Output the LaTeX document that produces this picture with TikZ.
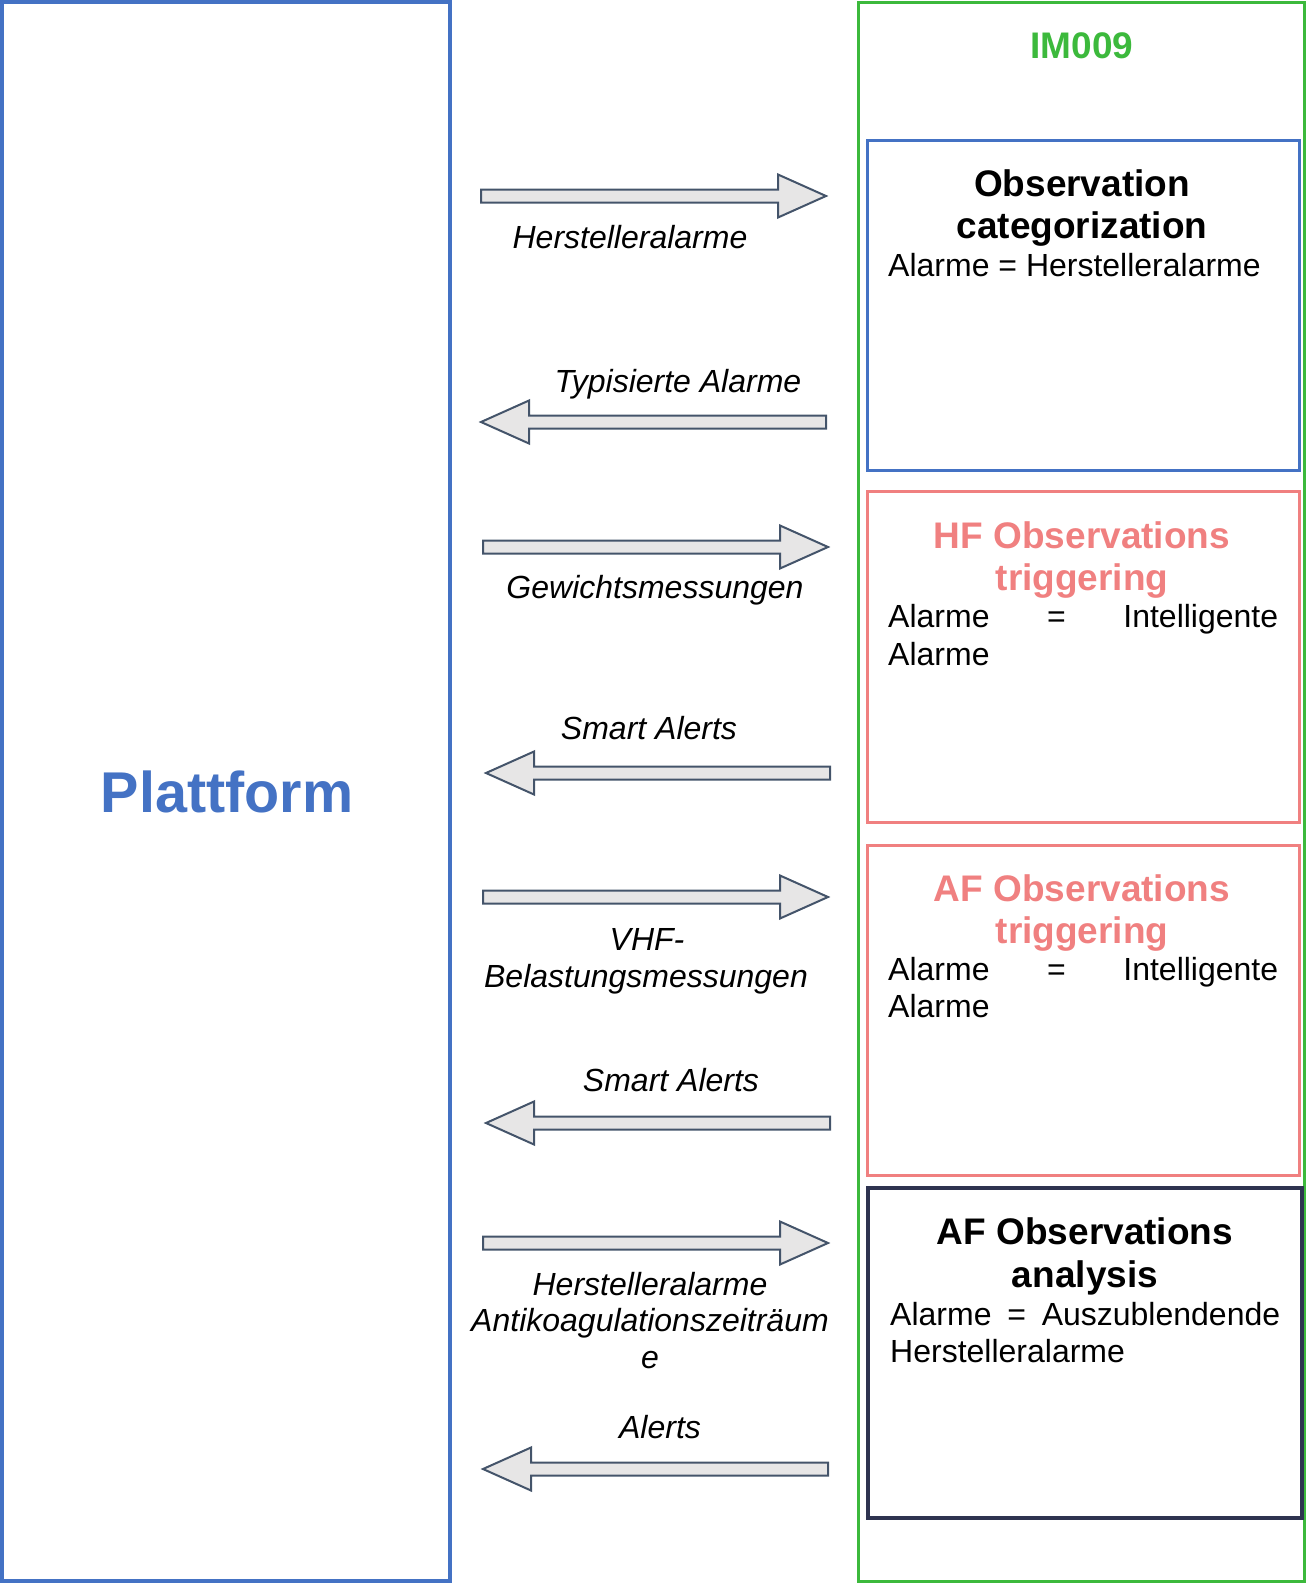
\documentclass[tikz,border=0pt]{standalone}
\usepackage{fontspec}
\setmainfont{Liberation Sans}
\definecolor{platblue}{HTML}{4472C4}
\definecolor{imgreen}{HTML}{3CB93C}
\definecolor{coral}{HTML}{F08080}
\definecolor{navy}{HTML}{2E3350}
\definecolor{arrowfill}{HTML}{E7E6E6}
\definecolor{arrowline}{HTML}{44546A}
\tikzset{
  lbl/.style={font=\fontsize{32}{37}\selectfont\itshape, anchor=base, inner sep=0pt},
  ttl/.style={font=\fontsize{37}{42.5}\selectfont\bfseries, anchor=base, inner sep=0pt},
  body/.style={font=\fontsize{32}{37}\selectfont, anchor=base west, inner sep=0pt, align=left},
  blockarrow/.style={draw=arrowline, fill=arrowfill, line width=2pt, line join=miter},
}
\newcommand\blockR[3]{% x1 x2 y
  \draw[blockarrow] (#1,#3-6.5) -- (#2-48,#3-6.5) -- (#2-48,#3-21.5) -- (#2,#3)
    -- (#2-48,#3+21.5) -- (#2-48,#3+6.5) -- (#1,#3+6.5) -- cycle;}
\newcommand\blockL[3]{% x1(tip) x2 y
  \draw[blockarrow] (#2,#3-6.5) -- (#1+48,#3-6.5) -- (#1+48,#3-21.5) -- (#1,#3)
    -- (#1+48,#3+21.5) -- (#1+48,#3+6.5) -- (#2,#3+6.5) -- cycle;}
\begin{document}
\begin{tikzpicture}[x=1pt,y=-1pt]
\useasboundingbox (0,0) rectangle (1306,1583);
% Plattform
\draw[platblue, line width=4pt] (2,2) rectangle (450,1581);
\node[font=\fontsize{57.5}{66}\selectfont\bfseries, text=platblue, inner sep=0pt, anchor=base] (plat) at (227,812) {Plattform};
% IM009
\draw[imgreen, line width=3pt] (858,2) rectangle (1304,1581);
\node[font=\fontsize{37}{42}\selectfont\bfseries, text=imgreen, inner sep=0pt, anchor=base] (im) at (1082,58) {IM009};
% Box 1
\draw[platblue, line width=3pt] (867,140) rectangle (1299,470);
\node[ttl] (t1a) at (1082,196) {Observation};
\node[ttl] (t1b) at (1082,238.5) {categorization};
\node[body] (b1) at (888,276.5) {Alarme = Herstelleralarme};
% Box 2
\draw[coral, line width=3pt] (867,491) rectangle (1299,822);
\node[ttl, text=coral] (t2a) at (1082,548) {HF Observations};
\node[ttl, text=coral] (t2b) at (1082,590.5) {triggering};
\node[body, text width=390pt] (b2a) at (888,627.5) {Alarme\hfill=\hfill Intelligente};
\node[body] (b2b) at (888,665) {Alarme};
% Box 3
\draw[coral, line width=3pt] (867,845) rectangle (1299,1175);
\node[ttl, text=coral] (t3a) at (1082,901) {AF Observations};
\node[ttl, text=coral] (t3b) at (1082,943) {triggering};
\node[body, text width=390pt] (b3a) at (888,980) {Alarme\hfill=\hfill Intelligente};
\node[body] (b3b) at (888,1017.5) {Alarme};
% Box 4
\draw[navy, line width=3.5pt] (868,1188) rectangle (1302,1518);
\node[ttl] (t4a) at (1085,1244) {AF Observations};
\node[ttl] (t4b) at (1085,1287) {analysis};
\node[body, text width=390pt] (b4a) at (890,1325) {Alarme\hfill=\hfill Auszublendende};
\node[body] (b4b) at (890,1362) {Herstelleralarme};
% Arrows
\blockR{481}{826}{196}
\node[lbl] (l1) at (630,248) {Herstelleralarme};
\blockL{481}{826}{422}
\node[lbl] (l2) at (678,392) {Typisierte Alarme};
\blockR{483}{828}{547}
\node[lbl] (l3) at (655,598) {Gewichtsmessungen};
\blockL{486}{830}{773}
\node[lbl] (l4) at (649,739) {Smart Alerts};
\blockR{483}{828}{897}
\node[lbl] (l5a) at (647,950) {VHF-};
\node[lbl] (l5b) at (646,987) {Belastungsmessungen};
\blockL{486}{830}{1123}
\node[lbl] (l6) at (671,1091) {Smart Alerts};
\blockR{483}{828}{1243}
\node[lbl] (l7a) at (650,1295) {Herstelleralarme};
\node[lbl] (l7b) at (650,1331) {Antikoagulationszeiträum};
\node[lbl] (l7c) at (650,1368) {e};
\blockL{483}{828}{1469}
\node[lbl] (l8) at (660,1438) {Alerts};
\end{tikzpicture}
\end{document}
